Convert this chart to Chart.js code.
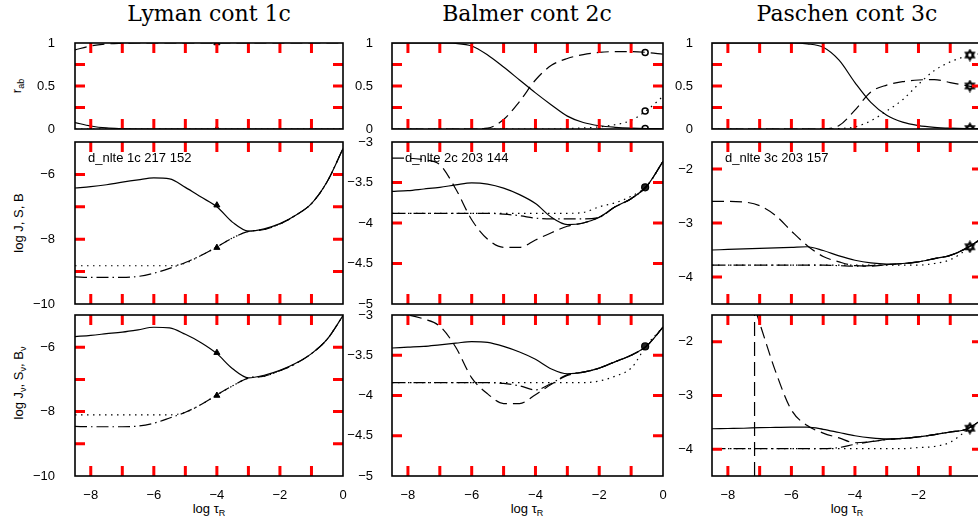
<!DOCTYPE html>
<html>
<head>
<meta charset="utf-8">
<script src="https://cdn.jsdelivr.net/npm/chart.js@4.4.0/dist/chart.umd.min.js"></script>
<style>
  html, body { margin: 0; padding: 0; background: #fff; overflow: hidden; }
  #wrap { position: relative; width: 978px; height: 518px; overflow: hidden; }
  canvas { position: absolute; }
  .lbl { position: absolute; font-family: "Liberation Sans", Arial, sans-serif; font-size: 13px; color: #000;
         white-space: nowrap; transform: translate(-50%, -50%); line-height: 1; }
  .rot { transform: translate(-50%, -50%) rotate(-90deg); }
  .ttl { position: absolute; font-family: "DejaVu Serif", serif; font-size: 22px; color: #000;
         white-space: nowrap; transform: translate(-50%, -50%); line-height: 1; }
  sub { font-size: 9px; vertical-align: -3px; line-height: 0; }
</style>
</head>
<body>
<div id="wrap">
  <div class="ttl" style="left:209px;top:14px">Lyman cont 1c</div>
  <div class="ttl" style="left:527px;top:14px">Balmer cont 2c</div>
  <div class="ttl" style="left:847px;top:14px">Paschen cont 3c</div>

  <div class="lbl rot" style="left:16px;top:86px">r<sub>ab</sub></div>
  <div class="lbl rot" style="left:18px;top:223px">log J, S, B</div>
  <div class="lbl rot" style="left:18px;top:383px">log J<sub>ν</sub>, S<sub>ν</sub>, B<sub>ν</sub></div>

  <div class="lbl" style="left:209px;top:508px">log τ<sub>R</sub></div>
  <div class="lbl" style="left:527px;top:508px">log τ<sub>R</sub></div>
  <div class="lbl" style="left:847px;top:508px">log τ<sub>R</sub></div>
</div>
<script>
// depth grid (log tau_R) shared by every curve
const tau = [-8.5, -8, -7.5, -7, -6.5, -6, -5.5, -5, -4.5, -4, -3.5, -3, -2.5, -2, -1.5, -1, -0.5, 0];

// Lyman cont 1c
const lyRabSolid = [0.075, 0.035, 0.012, 0.004, 0, 0, 0, 0, 0, 0, 0, 0, 0, 0, 0, 0, 0, 0];
const lyRabDash  = [0.92, 0.965, 0.988, 0.996, 1, 1, 1, 1, 1, 1, 1, 1, 1, 1, 1, 1, 1, 1];
const lyRabDot   = [0, 0, 0, 0, 0, 0, 0, 0, 0, 0, 0, 0, 0, 0, 0, 0, 0, 0];
const lyJ   = [-6.42, -6.38, -6.32, -6.24, -6.17, -6.11, -6.14, -6.40, -6.70, -7.00, -7.48, -7.75, -7.68, -7.52, -7.26, -6.90, -6.22, -5.20];
const lyS   = [-9.16, -9.18, -9.18, -9.18, -9.15, -9.05, -8.90, -8.72, -8.50, -8.24, -7.96, -7.76, -7.70, -7.53, -7.26, -6.90, -6.22, -5.20];
const lyB   = [-8.82, -8.82, -8.82, -8.82, -8.82, -8.82, -8.82, -8.74, -8.50, -8.24, -7.96, -7.76, -7.70, -7.53, -7.26, -6.90, -6.22, -5.20];
const lyJnu = [-5.67, -5.63, -5.58, -5.53, -5.46, -5.38, -5.40, -5.60, -5.86, -6.20, -6.67, -6.95, -6.87, -6.72, -6.50, -6.20, -5.75, -5.02];
const lySnu = [-8.46, -8.47, -8.47, -8.47, -8.45, -8.36, -8.20, -8.02, -7.78, -7.48, -7.20, -6.96, -6.90, -6.73, -6.51, -6.20, -5.75, -5.02];
const lyBnu = [-8.10, -8.10, -8.10, -8.10, -8.10, -8.10, -8.10, -8.02, -7.78, -7.48, -7.20, -6.96, -6.90, -6.73, -6.51, -6.20, -5.75, -5.02];
const lyMarkX = -4;
const lyMarkRab = [1, 0];
const lyMarkJSB = [-6.95, -8.26];
const lyMarkNu  = [-6.17, -7.50];

// Balmer cont 2c
const baRabSolid = [1, 1, 1, 1, 0.995, 0.965, 0.86, 0.72, 0.57, 0.42, 0.28, 0.15, 0.075, 0.038, 0.02, 0.01, 0.005, 0.003];
const baRabDash  = [0, 0, 0, 0, 0, 0, 0.01, 0.11, 0.32, 0.57, 0.74, 0.82, 0.865, 0.89, 0.90, 0.90, 0.89, 0.87];
const baRabDot   = [0, 0, 0, 0, 0, 0, 0, 0, 0, 0, 0, 0.005, 0.012, 0.025, 0.05, 0.10, 0.22, 0.38];
const baJ   = [-3.61, -3.60, -3.58, -3.56, -3.53, -3.505, -3.52, -3.57, -3.65, -3.76, -3.93, -4.02, -4.00, -3.93, -3.80, -3.70, -3.54, -3.24];
const baS   = [-3.20, -3.20, -3.22, -3.28, -3.58, -3.96, -4.20, -4.30, -4.30, -4.21, -4.12, -4.04, -4.00, -3.93, -3.80, -3.70, -3.54, -3.24];
const baB   = [-3.88, -3.88, -3.88, -3.88, -3.88, -3.88, -3.88, -3.88, -3.88, -3.88, -3.88, -3.88, -3.87, -3.80, -3.75, -3.67, -3.54, -3.24];
const baX   = [-3.88, -3.88, -3.88, -3.88, -3.88, -3.88, -3.88, -3.89, -3.91, -3.94, -3.95, -3.95, -3.95, -3.93, -3.80, -3.70, -3.54, -3.24];
const baJnu = [-3.41, -3.40, -3.39, -3.37, -3.35, -3.33, -3.34, -3.39, -3.46, -3.55, -3.67, -3.73, -3.71, -3.66, -3.58, -3.50, -3.38, -3.15];
const baSnu = [-2.99, -3.00, -3.05, -3.14, -3.40, -3.78, -3.98, -4.10, -4.10, -3.99, -3.86, -3.75, -3.71, -3.66, -3.58, -3.50, -3.38, -3.15];
const baBnu = [-3.84, -3.84, -3.84, -3.84, -3.84, -3.84, -3.84, -3.84, -3.84, -3.84, -3.84, -3.84, -3.84, -3.82, -3.76, -3.66, -3.37, -3.15];
const baXnu = [-3.84, -3.84, -3.84, -3.84, -3.84, -3.84, -3.84, -3.85, -3.88, -3.93, -3.85, -3.74, -3.71, -3.66, -3.58, -3.50, -3.38, -3.15];
const baMarkX = -0.56;
const baMarkRab = [0.005, 0.89, 0.21];
const baMarkJSB = [-3.56];
const baMarkNu  = [-3.39];

// Paschen cont 3c
const paRabSolid = [1, 1, 1, 1, 1, 1, 0.99, 0.95, 0.80, 0.54, 0.31, 0.16, 0.08, 0.04, 0.02, 0.01, 0.005, 0.003];
const paRabDash  = [0, 0, 0, 0, 0, 0, 0, 0.002, 0.04, 0.22, 0.43, 0.51, 0.55, 0.57, 0.575, 0.54, 0.505, 0.48];
const paRabDot   = [0, 0, 0, 0, 0, 0, 0, 0, 0.005, 0.025, 0.095, 0.21, 0.34, 0.52, 0.68, 0.78, 0.845, 0.88];
const paJ   = [-3.50, -3.49, -3.48, -3.47, -3.46, -3.45, -3.44, -3.51, -3.61, -3.69, -3.74, -3.76, -3.75, -3.72, -3.66, -3.60, -3.47, -3.28];
const paS   = [-2.60, -2.60, -2.61, -2.68, -2.86, -3.15, -3.42, -3.62, -3.72, -3.79, -3.80, -3.77, -3.75, -3.72, -3.66, -3.60, -3.47, -3.28];
const paB   = [-3.78, -3.78, -3.78, -3.78, -3.78, -3.78, -3.78, -3.78, -3.78, -3.78, -3.78, -3.78, -3.78, -3.78, -3.75, -3.68, -3.50, -3.28];
const paX   = [-3.78, -3.78, -3.78, -3.78, -3.78, -3.78, -3.78, -3.78, -3.79, -3.80, -3.79, -3.77, -3.75, -3.72, -3.66, -3.60, -3.47, -3.28];
const paJnu = [-3.62, -3.615, -3.61, -3.60, -3.595, -3.59, -3.59, -3.63, -3.69, -3.75, -3.79, -3.81, -3.80, -3.77, -3.73, -3.68, -3.63, -3.45];
const paSnu = [0.0, -0.2, -0.75, -1.65, -2.55, -3.27, -3.56, -3.70, -3.79, -3.88, -3.86, -3.82, -3.80, -3.77, -3.73, -3.68, -3.63, -3.45];
const paBnu = [-3.99, -3.99, -3.99, -3.99, -3.99, -3.99, -3.99, -3.99, -3.99, -3.99, -3.99, -3.99, -3.99, -3.97, -3.95, -3.87, -3.66, -3.45];
const paXnu = [-3.99, -3.99, -3.99, -3.99, -3.99, -3.99, -3.99, -3.99, -3.97, -3.91, -3.86, -3.82, -3.80, -3.77, -3.73, -3.68, -3.63, -3.45];
const paVlineX = -7.16;
const paMarkX = -0.38;
const paMarkRab = [0.005, 0.50, 0.86];
const paMarkJSB = [-3.44];
const paMarkNu  = [-3.61];

// tick labels
const xTickLabels = [-8, -6, -4, -2, 0];
const xTickMarks = [-8, -7, -6, -5, -4, -3, -2, -1];
const rabTickLabels = [0, 0.5, 1];
const rabTickMarks = [0.25, 0.5, 0.75];
const lyTickLabels = [-10, -8, -6];
const lyTickMarks = [-9, -8, -7, -6];
const baTickLabels = [-5, -4.5, -4, -3.5, -3];
const baTickMarks = [-4.5, -4, -3.5];
const paTickLabels = [-4, -3, -2];
const paTickMarks = [-4, -3, -2];

const baMinor = [];
for (let v = -49; v <= -31; v++) if (v % 5) baMinor.push(v / 10);
const paMinor = [];
for (let v = -44; v <= -16; v += 2) if (v % 10) paMinor.push(v / 10);

// layout of the plot boxes (pixels)
const colL = [75, 392, 712];
const colR = [343, 663, 982];
const rowT = [43, 142, 315];
const rowB = [129, 304, 476];
const PAD = 22;   // room for the y tick label padding that Chart.js reserves

const DASH = { solid: [], dash: [12, 6], dot: [1.5, 4.5], dashdot: [12, 4, 1.5, 4] };
const minus = v => String(v).replace('-', '\u2212');
const FONT = { family: '"Liberation Sans", Arial, sans-serif', size: 13 };

// six-pointed star used for the Paschen markers
const hexStar = document.createElement('canvas');
hexStar.width = 13; hexStar.height = 13;
(function () {
  const g = hexStar.getContext('2d');
  g.strokeStyle = '#000'; g.lineWidth = 1.6;
  [-Math.PI / 2, Math.PI / 2].forEach(a0 => {
    g.beginPath();
    for (let k = 0; k < 3; k++) {
      const a = a0 + k * 2 * Math.PI / 3;
      const qx = 6.5 + 5 * Math.cos(a), qy = 6.5 + 5 * Math.sin(a);
      if (k === 0) g.moveTo(qx, qy); else g.lineTo(qx, qy);
    }
    g.closePath(); g.stroke();
  });
})();

function line(ys, dash) {
  return {
    type: 'line',
    data: tau.map((x, i) => ({ x: x, y: ys[i] })),
    borderColor: '#000', borderWidth: 1.2, borderDash: dash,
    pointRadius: 0, fill: false, cubicInterpolationMode: 'monotone'
  };
}

function marks(x, ys, st) {
  return {
    type: 'scatter',
    data: ys.map(y => ({ x: x, y: y })),
    pointStyle: st.s, pointRadius: st.r, backgroundColor: st.bg,
    borderColor: '#000', borderWidth: st.bw
  };
}

// frame with inward ticks on all four sides, plus the panel note
function framePlugin(o) {
  return {
    id: 'frame',
    afterDraw(chart) {
      const ctx = chart.ctx, a = chart.chartArea;
      const sx = chart.scales.x, sy = chart.scales.y;
      ctx.save();
      ctx.strokeStyle = 'red';
      ctx.lineWidth = 3;
      ctx.beginPath();
      xTickMarks.forEach(v => {
        const p = sx.getPixelForValue(v);
        ctx.moveTo(p, a.top); ctx.lineTo(p, a.top + 10);
        ctx.moveTo(p, a.bottom); ctx.lineTo(p, a.bottom - 10);
      });
      o.yMajor.forEach(v => {
        const p = sy.getPixelForValue(v);
        ctx.moveTo(a.left, p); ctx.lineTo(a.left + 10, p);
        ctx.moveTo(a.right, p); ctx.lineTo(a.right - 10, p);
      });
      ctx.stroke();
      ctx.strokeStyle = '#000';
      ctx.lineWidth = 1.6;
      ctx.strokeRect(a.left, a.top, a.right - a.left, a.bottom - a.top);
      if (o.note) {
        ctx.fillStyle = '#000';
        ctx.font = '13px "Liberation Sans", Arial, sans-serif';
        ctx.textBaseline = 'middle';
        ctx.fillText(o.note + ' ' + Math.round(sx.getPixelForValue(-4)) + ' ' + Math.round(sy.getPixelForValue(o.yMajor[0])), a.left + 13, a.top + 16);
      }
      ctx.restore();
    }
  };
}

function panel(col, row, yMin, yMax, yLabels, yMajor, yMinor, datasets, note) {
  const padL = col === 0 ? colL[0] : 60;
  const bottomRow = row === 2;
  const padB = bottomRow ? 40 : PAD;
  const c = document.createElement('canvas');
  const w = colR[col] - colL[col] + padL + PAD;
  const h = rowB[row] - rowT[row] + PAD + padB;
  c.width = w; c.height = h;
  c.style.left = (colL[col] - padL) + 'px';
  c.style.top = (rowT[row] - PAD) + 'px';
  c.style.width = w + 'px'; c.style.height = h + 'px';
  document.getElementById('wrap').appendChild(c);

  new Chart(c.getContext('2d'), {
    type: 'line',
    data: { datasets: datasets },
    options: {
      responsive: false,
      animation: false,
      events: [],
      layout: { padding: { left: 0, top: PAD, right: PAD, bottom: bottomRow ? 0 : PAD } },
      plugins: { legend: { display: false }, tooltip: { enabled: false } },
      scales: {
        x: {
          type: 'linear', min: -8.5, max: 0,
          display: bottomRow,
          grid: { display: false }, border: { display: false },
          afterBuildTicks: s => { s.ticks = xTickLabels.map(v => ({ value: v })); },
          afterFit: s => { s.height = bottomRow ? 40 : 0; },
          ticks: { font: FONT, color: '#000', padding: 4, maxRotation: 0, autoSkip: false, callback: minus }
        },
        y: {
          type: 'linear', min: yMin, max: yMax,
          grid: { display: false }, border: { display: false },
          afterBuildTicks: s => { s.ticks = yLabels.map(v => ({ value: v })); },
          afterFit: s => { s.width = padL; },
          ticks: { font: FONT, color: '#000', padding: col === 0 ? 12 : 11, autoSkip: false, callback: minus }
        }
      }
    },
    plugins: [framePlugin({ yMajor: yMajor, yMinor: yMinor, note: note })]
  });
}

const TRI = { s: 'triangle', r: 3.5, bg: '#000', bw: 1 };
const CIRC_OPEN = { s: 'circle', r: 3, bg: '#fff', bw: 1.5 };
const CIRC = { s: 'circle', r: 3.5, bg: '#222', bw: 1.2 };
const STAR = { s: hexStar, r: 6, bg: '#000', bw: 1 };

// Lyman
panel(0, 0, 0, 1, rabTickLabels, rabTickMarks, null, [
  line(lyRabSolid, DASH.solid), line(lyRabDash, DASH.dash), line(lyRabDot, DASH.dot),
  marks(lyMarkX, lyMarkRab, TRI)
]);
panel(0, 1, -10, -5, lyTickLabels, lyTickMarks, null, [
  line(lyJ, DASH.solid), line(lyB, DASH.dot), line(lyS, DASH.dashdot),
  marks(lyMarkX, lyMarkJSB, TRI)
], 'd_nlte 1c');
panel(0, 2, -10, -5, lyTickLabels, lyTickMarks, null, [
  line(lyJnu, DASH.solid), line(lyBnu, DASH.dot), line(lySnu, DASH.dashdot),
  marks(lyMarkX, lyMarkNu, TRI)
]);

// Balmer
panel(1, 0, 0, 1, rabTickLabels, rabTickMarks, null, [
  line(baRabSolid, DASH.solid), line(baRabDash, DASH.dash), line(baRabDot, DASH.dot),
  marks(baMarkX, baMarkRab, CIRC_OPEN)
]);
panel(1, 1, -5, -3, baTickLabels, baTickMarks, baMinor, [
  line(baJ, DASH.solid), line(baS, DASH.dash), line(baB, DASH.dot), line(baX, DASH.dashdot),
  marks(baMarkX, baMarkJSB, CIRC)
], 'd_nlte 2c');
panel(1, 2, -5, -3, baTickLabels, baTickMarks, baMinor, [
  line(baJnu, DASH.solid), line(baSnu, DASH.dash), line(baBnu, DASH.dot), line(baXnu, DASH.dashdot),
  marks(baMarkX, baMarkNu, CIRC)
]);

// Paschen
panel(2, 0, 0, 1, rabTickLabels, rabTickMarks, null, [
  line(paRabSolid, DASH.solid), line(paRabDash, DASH.dash), line(paRabDot, DASH.dot),
  marks(paMarkX, paMarkRab, STAR)
]);
panel(2, 1, -4.5, -1.5, paTickLabels, paTickMarks, paMinor, [
  line(paJ, DASH.solid), line(paS, DASH.dash), line(paB, DASH.dot), line(paX, DASH.dashdot),
  marks(paMarkX, paMarkJSB, STAR)
], 'd_nlte 3c');
panel(2, 2, -4.5, -1.5, paTickLabels, paTickMarks, paMinor, [
  line(paJnu, DASH.solid), line(paSnu, DASH.dash), line(paBnu, DASH.dot), line(paXnu, DASH.dashdot),
  {
    type: 'line',
    data: [{ x: paVlineX, y: -4.5 }, { x: paVlineX, y: -1.5 }],
    borderColor: '#000', borderWidth: 1.2, borderDash: [14, 6], pointRadius: 0, fill: false
  },
  marks(paMarkX, paMarkNu, STAR)
]);
</script>
</body>
</html>
